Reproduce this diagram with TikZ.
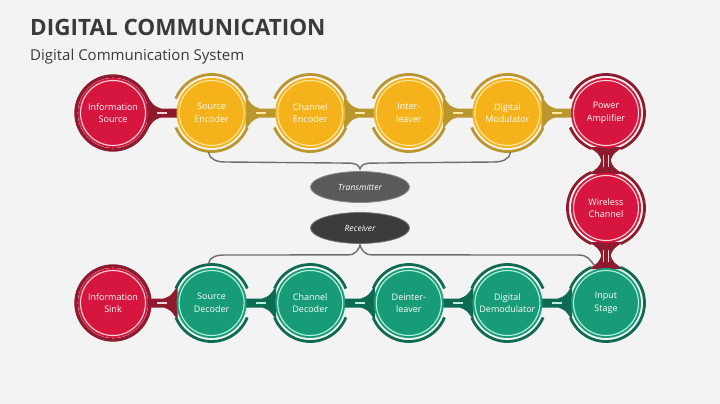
\documentclass[tikz,border=0pt]{standalone}
\usepackage{fontspec}
\setmainfont{Open Sans}
\usetikzlibrary{calc,shapes.geometric}
\definecolor{bgc}{HTML}{F3F3F3}
\definecolor{titlec}{HTML}{3A3A3A}
\definecolor{redf}{HTML}{D6163E}
\definecolor{redd}{HTML}{8E1A2E}
\definecolor{redl}{HTML}{FBD3DB}
\definecolor{yelf}{HTML}{F6B21A}
\definecolor{yeld}{HTML}{B9962E}
\definecolor{yell}{HTML}{FFE8A0}
\definecolor{grnf}{HTML}{179C77}
\definecolor{grnd}{HTML}{0E6B51}
\definecolor{grnl}{HTML}{B8F2DF}
\definecolor{txc}{HTML}{5A5A5A}
\definecolor{rxc}{HTML}{3C3C3C}
\definecolor{bracec}{HTML}{6E6E6E}
\pgfdeclarelayer{back}
\pgfdeclarelayer{mid}
\pgfsetlayers{back,mid,main}
\newcommand\neck[5]{% node, rotation, distance, dark, light
  \begin{scope}[shift={(#1.center)}, rotate=#2]
    \fill[#4] (34,-17) .. controls (41,-7) .. (48,-4.5) -- ({#3-33},-4.5) -- ({#3-33},4.5) -- (48,4.5) .. controls (41,7) .. (34,17) -- cycle;
    \fill[#5] ({#3/2-5},-1.3) rectangle ({#3/2+5},1.3);
  \end{scope}}
\newcommand\vneck[4]{% node, distance, dark, light  (downwards, flared at both ends)
  \begin{scope}[shift={(#1.center)}, rotate=-90]
    \fill[#3] (34,-17) .. controls (41,-7) .. (48,-4.5) -- ({#2-48},-4.5) .. controls ({#2-41},-7) .. ({#2-34},-17)
      -- ({#2-34},17) .. controls ({#2-41},7) .. ({#2-48},4.5) -- (48,4.5) .. controls (41,7) .. (34,17) -- cycle;
    \fill[#4] ({#2/2-6},-3) rectangle ({#2/2+6},-2);
    \fill[#4] ({#2/2-6},2) rectangle ({#2/2+6},3);
  \end{scope}}
\newcommand\outerarcs[6]{% node, color, a1, b1, a2, b2
  \draw[#2, line width=2.8pt] ($(#1.center)+(#3:38.5)$) arc[start angle=#3, end angle=#4, radius=38.5];
  \draw[#2, line width=2.8pt] ($(#1.center)+(#5:38.5)$) arc[start angle=#5, end angle=#6, radius=38.5];}
\begin{document}
\begin{tikzpicture}[x=1pt,y=-1pt,
  disc/.style={circle, minimum size=70pt, inner sep=0pt, text=white, align=center,
    font=\fontsize{9}{12.5}\selectfont},
  oval/.style={ellipse, minimum width=99pt, minimum height=31pt, inner sep=0pt, text=white,
    draw=#1!70!white, line width=0.8pt, fill=#1, font=\itshape\fontsize{8.5}{10}\selectfont},
  brace/.style={draw=bracec, line width=1.4pt}]
\begin{pgfonlayer}{back}
\fill[bgc] (0,0) rectangle (720,404);
\end{pgfonlayer}
\useasboundingbox (0,0) rectangle (720,404);

\node[anchor=base west, inner sep=0pt, text=titlec, font=\fontsize{22.5}{27}\selectfont\bfseries] (title) at (30,36) {DIGITAL COMMUNICATION};
\node[anchor=base west, inner sep=0pt, text=titlec, font=\fontsize{15}{18}\selectfont] (sub) at (30,60) {Digital Communication System};

% top row
\node[disc, fill=redf] (is) at (113,113) {Information\\Source};
\node[disc, fill=yelf] (se) at (211.6,113) {Source\\Encoder};
\node[disc, fill=yelf] (ce) at (310.2,113) {Channel\\Encoder};
\node[disc, fill=yelf] (il) at (408.8,113) {Inter-\\leaver};
\node[disc, fill=yelf] (dm) at (507.4,113) {Digital\\Modulator};
\node[disc, fill=redf] (pa) at (606,113) {Power\\Amplifier};
\node[disc, fill=redf] (wc) at (606,208) {Wireless\\Channel};
% bottom row
\node[disc, fill=grnf] (ist) at (606,303) {Input\\Stage};
\node[disc, fill=grnf] (dd) at (507.4,303) {Digital\\Demodulator};
\node[disc, fill=grnf] (did) at (408.8,303) {Deinter-\\leaver};
\node[disc, fill=grnf] (cd) at (310.2,303) {Channel\\Decoder};
\node[disc, fill=grnf] (sd) at (211.6,303) {Source\\Decoder};
\node[disc, fill=redf] (isk) at (113,303) {Information\\Sink};

% ellipses
\node[oval=txc] (tx) at (360,187) {Transmitter};
\node[oval=rxc] (rx) at (360,228) {Receiver};

% necks
\begin{pgfonlayer}{mid}
\neck{is}{0}{98.6}{redd}{redl}
\neck{se}{0}{98.6}{yeld}{yell}
\neck{ce}{0}{98.6}{yeld}{yell}
\neck{il}{0}{98.6}{yeld}{yell}
\neck{dm}{0}{98.6}{yeld}{yell}
\vneck{pa}{95}{redd}{redl}
\vneck{wc}{95}{redd}{redl}
\neck{ist}{180}{98.6}{grnd}{grnl}
\neck{dd}{180}{98.6}{grnd}{grnl}
\neck{did}{180}{98.6}{grnd}{grnl}
\neck{cd}{180}{98.6}{grnd}{grnl}
\neck{sd}{180}{98.6}{redd}{redl}
\end{pgfonlayer}

% light inner rings
\foreach \n/\c in {is/redl, pa/redl, wc/redl, isk/redl, se/yell, ce/yell, il/yell, dm/yell,
                   ist/grnl, dd/grnl, did/grnl, cd/grnl, sd/grnl}
  {\draw[\c, line width=1.1pt] (\n.center) circle[radius=32.5];}

% outer rings
\draw[redd, line width=3.4pt] (is.center) circle[radius=37];
\draw[redd, line width=3.4pt] (isk.center) circle[radius=37];
\foreach \n in {se, ce, il, dm} {\outerarcs{\n}{yeld}{22}{158}{202}{338}}
\foreach \n in {dd, did, cd, sd} {\outerarcs{\n}{grnd}{22}{158}{202}{338}}
\outerarcs{pa}{redd}{112}{158}{202}{428}
\outerarcs{wc}{redd}{112}{248}{-68}{68}
\outerarcs{ist}{grnd}{202}{248}{292}{518}

% braces
\draw[brace] ($(se.center)+(-3,39)$) .. controls +(1,8) and +(-8,0) .. ($(se.center)+(14,49)$)
  -- ($(tx.north)+(-12,-8)$) .. controls +(8,0) and +(-1,-4) .. ($(tx.north)+(0,-2)$)
  .. controls +(1,-4) and +(-8,0) .. ($(tx.north)+(12,-8)$)
  -- ($(dm.center)+(-14,49)$) .. controls +(8,0) and +(-1,8) .. ($(dm.center)+(3,39)$);
\draw[brace] ($(sd.center)+(-3,-39)$) .. controls +(1,-8) and +(-8,0) .. ($(sd.center)+(14,-48)$)
  -- ($(rx.south)+(-12,11)$) .. controls +(8,0) and +(-1,4) .. ($(rx.south)+(0,1)$)
  .. controls +(1,4) and +(-8,0) .. ($(rx.south)+(12,11)$)
  -- ($(ist.center)+(-28,-48)$) .. controls +(10,0) and +(-4,-5) .. ($(ist.center)+(-12,-38)$);
\end{tikzpicture}
\end{document}
